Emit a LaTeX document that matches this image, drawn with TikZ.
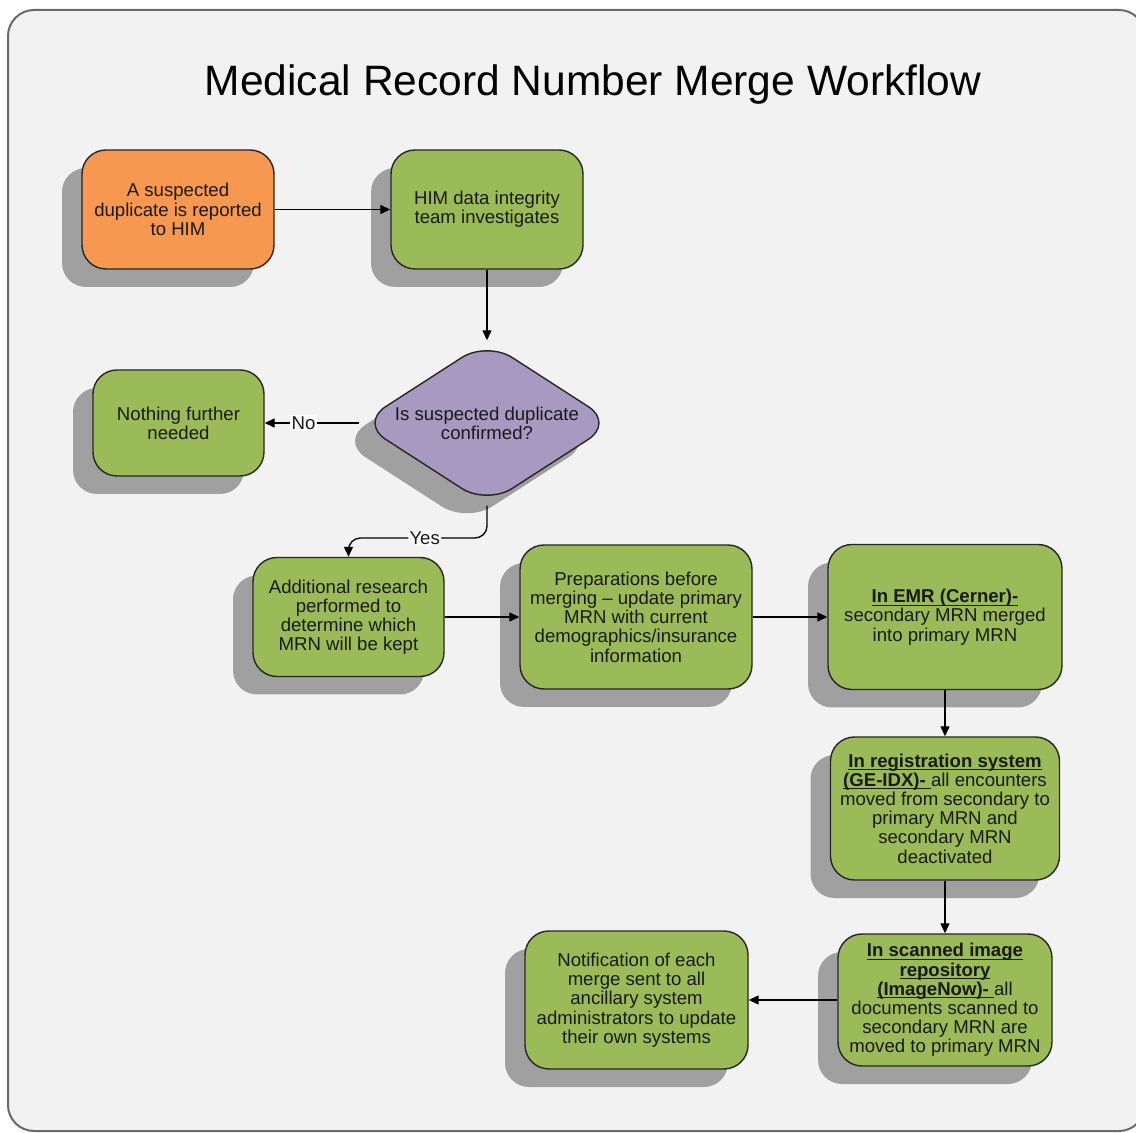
\documentclass[tikz,border=0pt]{standalone}
\usepackage{fontspec}
\setmainfont{Liberation Sans}
\usetikzlibrary{shapes.geometric,shadows,arrows.meta}
\definecolor{bggray}{RGB}{242,242,242}
\definecolor{framegray}{RGB}{105,105,105}
\definecolor{shadowgray}{RGB}{160,160,160}
\definecolor{boxgreen}{RGB}{155,187,89}
\definecolor{boxorange}{RGB}{247,152,80}
\definecolor{boxpurple}{RGB}{168,153,192}
\definecolor{textdark}{RGB}{25,25,25}
\newcommand\mybody{\fontsize{9.3pt}{9.6pt}\selectfont}
\newcommand\bu[1]{\setbox0\hbox{\textbf{#1}}\rlap{\rule[-1.5pt]{\wd0}{0.5pt}}\box0}
\begin{document}
\begin{tikzpicture}[x=0.5pt,y=-0.5pt,
  shade/.style={drop shadow={shadow xshift=-10pt,shadow yshift=-9pt,fill=shadowgray,opacity=1}},
  box/.style={rectangle,rounded corners=12pt,draw=black!85,line width=0.7pt,inner sep=0pt,
    align=center,font=\mybody,text=textdark,fill=boxgreen,shade},
  decision/.style={diamond,aspect=1.55,rounded corners=15pt,draw=black!85,line width=0.7pt,
    inner sep=0pt,align=center,font=\mybody,text=textdark,fill=boxpurple,shade,
    minimum width=127pt,minimum height=82pt},
  conn/.style={draw=black,line width=0.65pt,-{Triangle[length=5pt,width=4.5pt]}},
  lbl/.style={fill=white,inner sep=0.6pt,font=\mybody,text=textdark}]
\useasboundingbox (0,0) rectangle (1136,1133);
\begin{scope}
\clip (0,0) rectangle (1136,1133);
\draw[framegray,line width=1pt,fill=bggray,rounded corners=13pt] (8,10) rectangle (1145,1131);
\end{scope}

\node (title) at (593,85) {\fontsize{21.25pt}{24pt}\selectfont Medical Record Number Merge Workflow};

\node[box,fill=boxorange,minimum width=96pt,minimum height=59.5pt] (rep) at (178,209.5)
  {A suspected\\duplicate is reported\\to HIM};
\node[box,minimum width=96pt,minimum height=59.5pt] (inv) at (487,209.5)
  {HIM data integrity\\team investigates};
\node[decision] (dec) at (487,423) {Is suspected duplicate\\confirmed?};
\node[box,minimum width=85.5pt,minimum height=53pt] (none) at (178.5,423)
  {Nothing further\\needed};
\node[box,minimum width=95.5pt,minimum height=59.5pt] (add) at (348.5,617)
  {Additional research\\performed to\\determine which\\MRN will be kept};
\node[box,minimum width=116pt,minimum height=72pt] (prep) at (636,617)
  {Preparations before\\merging -- update primary\\MRN with current\\demographics/insurance\\information};
\node[box,minimum width=117pt,minimum height=72.5pt] (emr) at (945,617)
  {\bu{In EMR (Cerner)-}\\secondary MRN merged\\into primary MRN};
\node[box,minimum width=114.5pt,minimum height=71.5pt] (reg) at (945,808.5)
  {\bu{In registration system}\\\bu{(GE-IDX)-\ }all encounters\\moved from secondary to\\primary MRN and\\secondary MRN\\deactivated};
\node[box,minimum width=107pt,minimum height=66pt] (scan) at (945,1000)
  {\bu{In scanned image}\\\bu{repository}\\\bu{(ImageNow)-\ }all\\documents scanned to\\secondary MRN are\\moved to primary MRN};
\node[box,minimum width=111.5pt,minimum height=69pt] (notif) at (636.5,1000)
  {Notification of each\\merge sent to all\\ancillary system\\administrators to update\\their own systems};

\coordinate (yesturn) at (487,538);

\draw[conn] (rep) -- (inv);
\draw[conn] (inv) -- (dec);
\draw[conn] (dec.west) -- node[lbl,pos=0.59]{No} (none.east);
\draw[conn,rounded corners=6pt] (dec.south) -- (dec.south |- yesturn)
  -- node[lbl,pos=0.45]{Yes} (add.north |- yesturn) -- (add.north);
\draw[conn] (add) -- (prep);
\draw[conn] (prep) -- (emr);
\draw[conn] (emr) -- (reg);
\draw[conn] (reg) -- (scan);
\draw[conn] (scan) -- (notif);
\end{tikzpicture}
\end{document}
